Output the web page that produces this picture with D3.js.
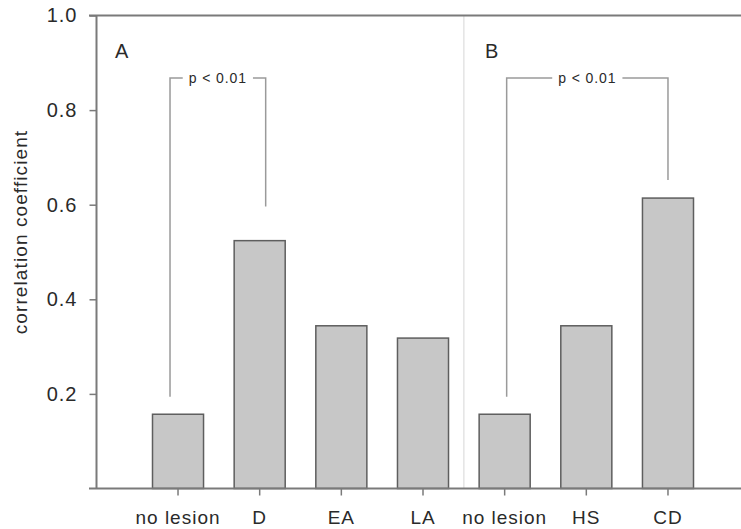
<!DOCTYPE html>
<html>
<head>
<meta charset="utf-8">
<script src="https://cdn.jsdelivr.net/npm/d3@7"></script>
<style>
  html, body { margin: 0; padding: 0; background: #fff; }
  svg { display: block; font-family: "Liberation Sans", Arial, sans-serif; }
</style>
</head>
<body>
<script>
// ---- data ----
const categories = ["no lesion", "D", "EA", "LA", "no lesion", "HS", "CD"];
const values = [0.157, 0.524, 0.344, 0.318, 0.157, 0.344, 0.614];
const yTicks = [0.2, 0.4, 0.6, 0.8, 1.0];
const panelLabels = ["A", "B"];
const bracketFrom = [0, 4];
const bracketTo = [1, 6];
const bracketTop = [0.868, 0.868];
const bracketLeftEnd = [0.194, 0.194];
const bracketRightEnd = [0.596, 0.652];
const bracketLabel = ["p < 0.01", "p < 0.01"];
const yLabel = "correlation coefficient";

// ---- layout ----
const W = 741, H = 529;
const svg = d3.select("body").append("svg").attr("width", W).attr("height", H);

const keys = categories.map((c, i) => i);
const x = d3.scaleBand().domain(keys).range([152.5, 693.5]).paddingInner(0.375).paddingOuter(0);
const y = d3.scaleLinear().domain([0, 1]).range([488.5, 15.5]);
const cx = i => x(i) + x.bandwidth() / 2;

const axisColor = "#7a7a7a";
const textColor = "#2a2a2a";

// separator between panels
svg.append("line")
  .attr("x1", cx(3) + x.step() / 2).attr("x2", cx(3) + x.step() / 2)
  .attr("y1", y(1)).attr("y2", y(0))
  .attr("stroke", "#e4e4e4").attr("stroke-width", 1.5);

// bars
svg.append("g").selectAll("rect").data(values).join("rect")
  .attr("x", (d, i) => x(i))
  .attr("y", d => y(d))
  .attr("width", x.bandwidth())
  .attr("height", d => y(0) - y(d))
  .attr("fill", "#c7c7c7")
  .attr("stroke", "#5e5e5e")
  .attr("stroke-width", 1.5);

// brackets
const bracketDx = [[-8, 6], [2, 0]];
bracketFrom.forEach((f, k) => {
  const xl = cx(f) + bracketDx[k][0];
  const xr = cx(bracketTo[k]) + bracketDx[k][1];
  const yt = y(bracketTop[k]);
  const g = svg.append("g");
  const t = g.append("text")
    .attr("x", (xl + xr) / 2).attr("y", yt + 5)
    .attr("text-anchor", "middle")
    .attr("font-size", 14).attr("letter-spacing", 0.9)
    .attr("fill", textColor)
    .text(bracketLabel[k]);
  const bb = t.node().getBBox();
  const gap = 6;
  const p1 = g.append("path")
    .attr("d", `M${bb.x - gap},${yt}H${xl}V${y(bracketLeftEnd[k])}`);
  const p2 = g.append("path")
    .attr("d", `M${bb.x + bb.width + gap},${yt}H${xr}V${y(bracketRightEnd[k])}`);
  [p1, p2].forEach(p => p.attr("stroke", "#9a9a9a").attr("stroke-width", 1.5).attr("fill", "none"));
});

// axes lines (left, top, bottom)
svg.append("line").attr("x1", 96.5).attr("x2", 96.5).attr("y1", y(1)).attr("y2", y(0))
  .attr("stroke", axisColor).attr("stroke-width", 2);
svg.append("line").attr("x1", 89).attr("x2", W).attr("y1", y(1)).attr("y2", y(1))
  .attr("stroke", axisColor).attr("stroke-width", 2);
svg.append("line").attr("x1", 89).attr("x2", W).attr("y1", y(0)).attr("y2", y(0))
  .attr("stroke", axisColor).attr("stroke-width", 2);

// y axis
const yAxis = svg.append("g").attr("transform", "translate(96.5,0)")
  .call(d3.axisLeft(y).tickValues(yTicks).tickFormat(d3.format(".1f")).tickSize(7).tickPadding(12));
yAxis.select(".domain").remove();
yAxis.selectAll(".tick line").attr("stroke", axisColor).attr("stroke-width", 1.5);
yAxis.selectAll(".tick text").attr("font-size", 20).attr("fill", textColor)
  .attr("font-family", "'Liberation Sans', Arial, sans-serif").attr("letter-spacing", 1);

// x axis
const xAxis = svg.append("g").attr("transform", `translate(0,${y(0)})`)
  .call(d3.axisBottom(x).tickFormat(i => categories[i]).tickSize(7).tickPadding(15));
xAxis.select(".domain").remove();
xAxis.selectAll(".tick line").attr("stroke", axisColor).attr("stroke-width", 1.5);
xAxis.selectAll(".tick text").attr("font-size", 19).attr("fill", textColor)
  .attr("font-family", "'Liberation Sans', Arial, sans-serif").attr("letter-spacing", 1);

// panel labels
panelLabels.forEach((l, k) => {
  svg.append("text")
    .attr("x", k === 0 ? 115 : 485).attr("y", 58)
    .attr("font-size", 20).attr("fill", textColor)
    .text(l);
});

// y label
svg.append("text")
  .attr("transform", "translate(27,232) rotate(-90)")
  .attr("text-anchor", "middle")
  .attr("font-size", 19).attr("letter-spacing", 1.1)
  .attr("fill", textColor)
  .text(yLabel);
</script>
</body>
</html>
